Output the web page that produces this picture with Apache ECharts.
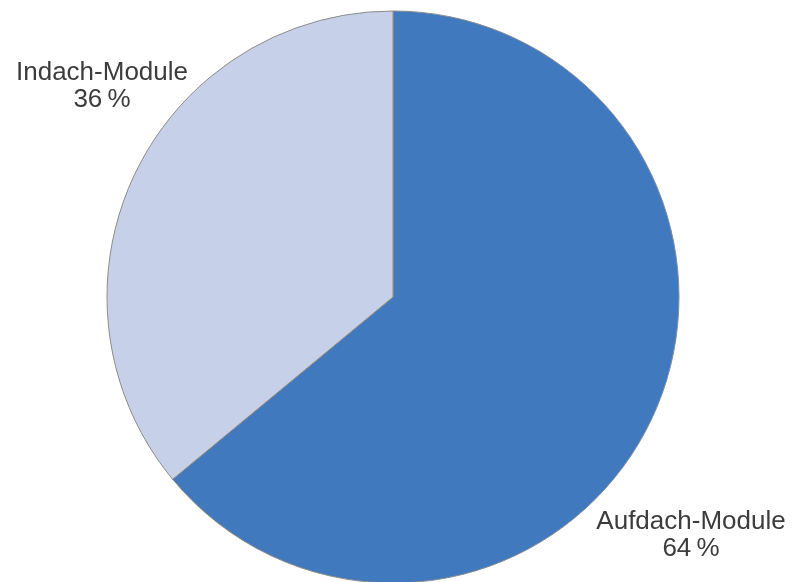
<!DOCTYPE html>
<html>
<head>
<meta charset="utf-8">
<script src="https://cdn.jsdelivr.net/npm/echarts@6/dist/echarts.min.js"></script>
<style>
  html, body { margin: 0; padding: 0; background: #ffffff; }
  #chart { width: 793px; height: 582px; }
</style>
</head>
<body>
<div id="chart"></div>
<script>
// Share of module mounting types
const categories = ['Aufdach-Module', 'Indach-Module'];
const shares = [64, 36];
const sliceColors = ['#4179be', '#c6d1e9'];

// Label anchor points (centre of each two-line label block)
const labelAnchors = [
  { x: 691, y: 535 },
  { x: 102, y: 86 }
];

const chart = echarts.init(document.getElementById('chart'), null, { renderer: 'canvas' });

chart.setOption({
  animation: false,
  backgroundColor: '#ffffff',
  series: [{
    type: 'pie',
    center: [393, 297],
    radius: [0, 286],
    startAngle: 90,
    clockwise: true,
    silent: true,
    avoidLabelOverlap: false,
    data: categories.map((name, i) => ({
      name,
      value: shares[i],
      itemStyle: { color: sliceColors[i] }
    })),
    itemStyle: { borderColor: '#8c8c8c', borderWidth: 1 },
    label: {
      show: true,
      position: 'outside',
      overflow: 'none',
      formatter: p => p.name + '\n' + p.value + '\u2009%',
      fontFamily: 'Liberation Sans, Arial, sans-serif',
      fontSize: 26,
      lineHeight: 27,
      color: '#3c3c3c',
      align: 'center'
    },
    labelLine: { show: false },
    labelLayout: params => ({
      x: labelAnchors[params.dataIndex].x,
      y: labelAnchors[params.dataIndex].y,
      align: 'center',
      verticalAlign: 'middle'
    })
  }]
});
</script>
</body>
</html>
